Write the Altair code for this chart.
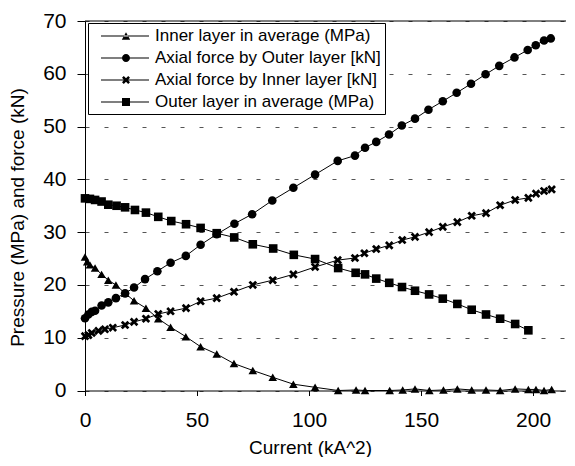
import altair as alt
import pandas as pd

SERIES = [
    "Inner layer in average (MPa)",
    "Axial force by Outer layer [kN]",
    "Axial force by Inner layer [kN]",
    "Outer layer in average (MPa)",
]

inner_avg_x = [0, 1, 2.2, 4.5, 7.4, 10.4, 13.8, 17.9, 21.9, 27.2, 32.7, 38.2, 45, 51.6, 58.8,
               66.5, 74.9, 83.8, 93, 102.7, 113, 121, 125, 136, 141.8, 147.3, 153.7, 160,
               166.2, 172.6, 179, 185.3, 192, 197.9, 201.3, 204.9, 208.3]
inner_avg_y = [25.3, 24.4, 23.8, 23.2, 22.0, 20.9, 20.0, 18.4, 17.0, 15.6, 13.6, 12.0, 10.2, 8.3, 6.9,
               5.1, 3.8, 2.5, 1.2, 0.6, 0.0, 0.1, 0.0, 0.0, 0.1, 0.3, 0.0, 0.1,
               0.3, 0.1, 0.1, 0.0, 0.3, 0.2, 0.2, 0.0, 0.2]

outer_force_x = [0, 1.5, 3, 4.5, 7.4, 10.4, 13.8, 17.9, 21.9, 26.8, 32.3, 38.2, 45, 51.6, 58.8,
                 66.7, 74.6, 83.6, 93, 102.7, 112.8, 120.5, 125, 130, 135.7, 141.4, 147.3, 153.3,
                 159.7, 165.9, 172.3, 178.8, 184.9, 191.7, 197.6, 201.2, 204.9, 207.9]
outer_force_y = [13.7, 14.4, 14.9, 15.1, 16.1, 16.7, 17.5, 18.4, 19.5, 21.1, 22.6, 24.2, 25.5, 27.6, 29.6,
                 31.6, 33.4, 36.0, 38.4, 40.9, 43.5, 44.5, 46.0, 47.1, 48.5, 50.2, 51.5, 53.2,
                 54.8, 56.4, 58.1, 59.9, 61.5, 63.1, 64.5, 65.4, 66.3, 66.7]

inner_force_x = [0, 1.5, 3, 6, 8.9, 12.4, 17.9, 21.9, 27.2, 32.7, 38.2, 45.1, 51.6, 58.8, 66.5,
                 74.9, 83.8, 93, 102.7, 112.8, 120.5, 124.7, 130, 135.8, 141.6, 147.3, 153.6,
                 159.7, 166.2, 172.6, 179, 185.3, 192, 197.9, 201.3, 204.9, 208.3]
inner_force_y = [10.3, 10.5, 10.9, 11.3, 11.6, 11.9, 12.4, 13.0, 13.6, 14.5, 15.0, 15.6, 16.9, 17.5, 18.7,
                 20.0, 20.9, 22.0, 23.4, 24.7, 25.1, 26.0, 26.8, 27.5, 28.5, 29.1, 30.0,
                 31.0, 31.9, 33.1, 33.6, 35.1, 36.1, 36.5, 37.3, 37.8, 38.1]

outer_avg_x = [0, 2.2, 4.5, 7.4, 10.4, 14.1, 17.9, 22.3, 27.2, 32.7, 38.5, 45.1, 51.6, 58.8, 66.6,
               74.9, 84, 93.2, 102.7, 113, 120.8, 125, 130, 135.8, 141.5, 147.3, 153.6, 159.7,
               166.2, 172.6, 179, 185.3, 192, 197.9]
outer_avg_y = [36.4, 36.3, 36.1, 35.8, 35.2, 35.0, 34.7, 34.2, 33.7, 32.9, 32.1, 31.5, 30.8, 29.8, 29.0,
               27.7, 26.9, 25.7, 24.9, 23.2, 22.3, 22.0, 21.2, 20.4, 19.6, 18.9, 18.2, 17.4,
               16.4, 15.3, 14.4, 13.6, 12.6, 11.4]

X_TICKS = [0, 50, 100, 150, 200]
Y_TICKS = [0, 10, 20, 30, 40, 50, 60, 70]

rows = []
for name, xs, ys in zip(SERIES,
                        [inner_avg_x, outer_force_x, inner_force_x, outer_avg_x],
                        [inner_avg_y, outer_force_y, inner_force_y, outer_avg_y]):
    for xv, yv in zip(xs, ys):
        rows.append({"series": name, "current": xv, "value": yv})
df = pd.DataFrame(rows)

FONT = "Liberation Sans"

# marker shapes (unit coordinates)
X_POLY = [(-1, -0.55), (-0.55, -1), (0, -0.45), (0.55, -1), (1, -0.55), (0.45, 0),
          (1, 0.55), (0.55, 1), (0, 0.45), (-0.55, 1), (-1, 0.55), (-0.45, 0)]
TRI_POLY = [(-1, 0.9), (1, 0.9), (0, -0.9)]
SQ_POLY = [(-1, -1), (1, -1), (1, 1), (-1, 1)]


def poly_path(pts, cx=0.0, s=1.0):
    return "M" + "L".join(f"{cx + px * s:.4f},{py * s:.4f}" for px, py in pts) + "Z"


def circle_path(cx, r):
    return (f"M{cx - r:.4f},0A{r},{r},0,1,1,{cx + r:.4f},0"
            f"A{r},{r},0,1,1,{cx - r:.4f},0Z")


X_PATH = poly_path(X_POLY)
MC, MS = 3.125, 0.5
LINE = "M0,-0.07H6V0.07H0Z"   # thin filled bar = legend line
LEGEND_PATHS = [
    LINE + poly_path(TRI_POLY, MC, MS * 1.05),
    LINE + circle_path(MC, 0.5),
    LINE + poly_path(X_POLY, MC, MS),
    LINE + poly_path(SQ_POLY, MC, MS),
]

x_enc = alt.X("current:Q",
              scale=alt.Scale(domain=[0, 214.7], nice=False, zero=False),
              axis=alt.Axis(values=X_TICKS, title="Current (kA^2)", grid=False,
                            tickSize=5, labelPadding=14, labelFlush=False,
                            titleX=225, titleY=57, titleBaseline="middle"))
y_enc = alt.Y("value:Q",
              scale=alt.Scale(domain=[0, 70], nice=False),
              axis=alt.Axis(values=Y_TICKS, title="Pressure (MPa) and force (kN)",
                            grid=True, gridDash=[4, 15], gridColor="#555555", gridWidth=1,
                            tickSize=8, labelPadding=11, labelFlush=False,
                            titleX=-67.5, titleY=196, titleBaseline="middle"))

base = alt.Chart(df)

lines = base.mark_line(color="black", strokeWidth=1).encode(
    x=x_enc, y=y_enc, detail="series:N")

points = base.mark_point(filled=True, color="black", size=74, opacity=1).encode(
    x=x_enc, y=y_enc,
    shape=alt.Shape("series:N",
                    scale=alt.Scale(domain=SERIES,
                                    range=["triangle-up", "circle", X_PATH, "square"]),
                    legend=None))

top_rule = alt.Chart(pd.DataFrame({"k": [0]})).mark_rule(color="black", strokeWidth=1).encode(
    y=alt.datum(70))

legend_layer = base.transform_filter("false").mark_point(
    filled=True, color="black", size=256, opacity=1).encode(
    x=x_enc, y=y_enc,
    shape=alt.Shape("series:N",
                    scale=alt.Scale(domain=SERIES, range=LEGEND_PATHS),
                    legend=alt.Legend(title=None, orient="none", legendX=3, legendY=2,
                                      padding=4, strokeColor="black", fillColor="white",
                                      symbolSize=256, symbolFillColor="black",
                                      symbolOpacity=1,
                                      labelFont=FONT, labelFontSize=17, labelColor="black",
                                      labelOffset=45, labelLimit=400, rowPadding=5,
                                      labelExpr="datum.label + '\u00a0\u00a0\u00a0'")))

chart = alt.layer(lines, points, top_rule, legend_layer).resolve_scale(
    shape="independent"
).properties(
    width=481, height=369.5,
    autosize=alt.AutoSizeParams(type="none"),
    padding={"left": 77, "top": 13, "right": 0, "bottom": 66},
).configure_view(stroke=None).configure_axis(
    labelFont=FONT, titleFont=FONT, labelFontSize=21, titleFontSize=19,
    titleFontWeight="normal", labelColor="black", titleColor="black",
    domainColor="black", tickColor="black", domainWidth=1, tickWidth=1,
)

chart.save("out.html", embed_options={"renderer": "svg", "actions": False})
